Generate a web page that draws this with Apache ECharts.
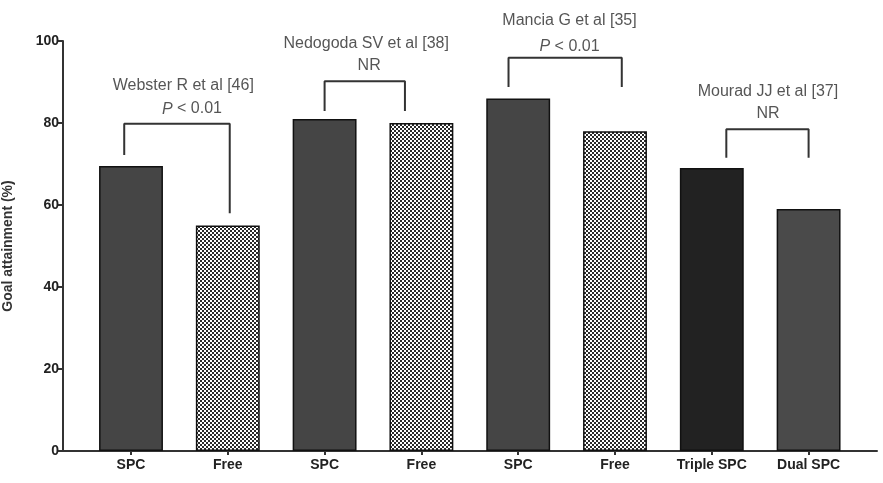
<!DOCTYPE html>
<html>
<head>
<meta charset="utf-8">
<script src="https://cdn.jsdelivr.net/npm/echarts@6/dist/echarts.min.js"></script>
<style>
html, body { margin: 0; padding: 0; background: #fff; }
#main { width: 883px; height: 483px; }
</style>
</head>
<body>
<div id="main"></div>
<script>
var categories = ['SPC', 'Free', 'SPC', 'Free', 'SPC', 'Free', 'Triple SPC', 'Dual SPC'];
var goalValues = [69.5, 55, 81, 80, 86, 78, 69, 59];

// significance brackets, x in category index units, y in %
var bracketLeft = [-0.07, 2.0, 3.9, 6.15];
var bracketRight = [1.02, 2.83, 5.07, 7.0];
var bracketTop = [79.8, 90.2, 95.9, 78.5];
var bracketLeftFoot = [72.2, 82.9, 88.8, 71.5];
var bracketRightFoot = [58, 82.9, 88.8, 71.5];

var studyNames = ['Webster R et al [46]', 'Nedogoda SV et al [38]', 'Mancia G et al [35]', 'Mourad JJ et al [37]'];
var studyX = [0.54, 2.43, 4.53, 6.58];
var studyY = [89.2, 99.3, 105.0, 87.6];
var pLabels = ['{i|P} < 0.01', 'NR', '{i|P} < 0.01', 'NR'];
var pX = [0.63, 2.46, 4.53, 6.58];
var pY = [83.4, 93.9, 98.6, 82.4];

var yTicks = [0, 20, 40, 60, 80, 100];

// checkered fill for the "Free" bars
var checker = document.createElement('canvas');
checker.width = 4;
checker.height = 4;
var cctx = checker.getContext('2d');
cctx.fillStyle = '#fff';
cctx.fillRect(0, 0, 4, 4);
cctx.fillStyle = '#2a2a2a';
cctx.fillRect(0, 0, 2, 2);
cctx.fillRect(2, 2, 2, 2);

function barFill(i) {
    if (categories[i] === 'Free') return { image: checker, repeat: 'repeat' };
    if (categories[i] === 'Triple SPC') return '#222';
    if (categories[i] === 'Dual SPC') return '#4a4a4a';
    return '#454545';
}

var barData = goalValues.map(function (v, i) {
    return { value: v, itemStyle: { color: barFill(i) } };
});

var font = '"Liberation Sans", Arial, sans-serif';

var series = [{
    type: 'bar',
    xAxisIndex: 0,
    yAxisIndex: 0,
    barWidth: '66%',
    data: barData,
    itemStyle: { borderColor: '#111', borderWidth: 1.5 }
}];

for (var b = 0; b < bracketLeft.length; b++) {
    series.push({
        type: 'line',
        xAxisIndex: 1,
        yAxisIndex: 0,
        symbol: 'none',
        clip: false,
        lineStyle: { color: '#333', width: 2 },
        data: [
            [bracketLeft[b], bracketLeftFoot[b]],
            [bracketLeft[b], bracketTop[b]],
            [bracketRight[b], bracketTop[b]],
            [bracketRight[b], bracketRightFoot[b]]
        ]
    });
}

function textSeries(xs, ys, texts) {
    return {
        type: 'scatter',
        xAxisIndex: 1,
        yAxisIndex: 0,
        symbolSize: 1,
        clip: false,
        itemStyle: { color: 'transparent' },
        label: {
            show: true,
            position: 'inside',
            color: '#2b2b2b',
            fontFamily: font,
            fontSize: 16,
            formatter: function (p) { return texts[p.dataIndex]; },
            rich: { i: { fontStyle: 'italic', fontFamily: font, fontSize: 16, color: '#2b2b2b' } }
        },
        data: xs.map(function (x, i) { return [x, ys[i]]; })
    };
}
series.push(textSeries(studyX, studyY, studyNames));
series.push(textSeries(pX, pY, pLabels));

var myChart = echarts.init(document.getElementById('main'));

var option = {
    animation: false,
    backgroundColor: '#fff',
    grid: [
        { left: 82.6, right: 26, top: 41, bottom: 32, outerBoundsMode: 'none' },
        { left: 63, right: 6, top: 41, bottom: 32, outerBoundsMode: 'none' }
    ],
    xAxis: [
        {
            type: 'category',
            gridIndex: 0,
            data: categories,
            axisLine: { show: false },
            axisTick: { show: true, alignWithLabel: true, length: 4, lineStyle: { color: '#333', width: 2 } },
            axisLabel: { color: '#222', fontFamily: font, fontWeight: 'bold', fontSize: 14, margin: 7 }
        },
        { type: 'value', gridIndex: 0, min: -0.5, max: 7.5, show: false },
        {
            type: 'value',
            gridIndex: 1,
            min: 0,
            max: 1,
            axisLine: { show: true, onZero: false, lineStyle: { color: '#333', width: 2 } },
            axisTick: { show: false },
            axisLabel: { show: false },
            splitLine: { show: false }
        }
    ],
    yAxis: [
        {
            type: 'value',
            gridIndex: 0,
            min: 0,
            max: 100,
            interval: 20,
            offset: 19.6,
            name: 'Goal attainment (%)',
            nameLocation: 'middle',
            nameGap: 48,
            nameTextStyle: { color: '#333', fontFamily: font, fontWeight: 'bold', fontSize: 14 },
            axisLine: { show: true, onZero: false, lineStyle: { color: '#333', width: 2 } },
            axisTick: { show: true, length: 5, lineStyle: { color: '#333', width: 2 } },
            axisLabel: {
                color: '#222', fontFamily: font, fontWeight: 'bold', fontSize: 14, margin: 4,
                formatter: function (v) { return yTicks.indexOf(v) >= 0 ? String(v) : ''; }
            },
            splitLine: { show: false }
        },
        { type: 'value', gridIndex: 1, min: 0, max: 1, show: false }
    ],
    series: series
};
myChart.setOption(option);
</script>
</body>
</html>
